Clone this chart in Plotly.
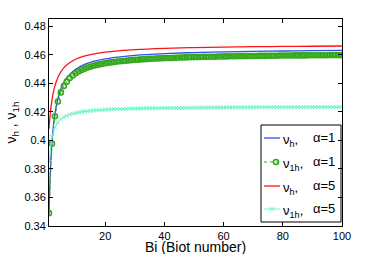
import plotly.graph_objects as go

# Biot number grids
bi_line = [1, 1.5, 2, 2.5, 3, 4, 5, 6, 7, 8, 10, 12, 15, 20, 25, 30, 40, 50, 60, 70, 80, 90, 100]
bi_pts = list(range(1, 101))

# nu_h, alpha=1 (blue line)
nu_h_a1 = [0.3480, 0.3803, 0.3986, 0.4104, 0.4186, 0.4293, 0.4359, 0.4404, 0.4437, 0.4462,
           0.4498, 0.4522, 0.4546, 0.4570, 0.4585, 0.4595, 0.4607, 0.4615, 0.4620, 0.4623,
           0.4626, 0.4628, 0.4630]
# nu_h, alpha=5 (red line)
nu_h_a5 = [0.4079, 0.4202, 0.4282, 0.4339, 0.4382, 0.4441, 0.4480, 0.4508, 0.4528, 0.4544,
           0.4568, 0.4584, 0.4601, 0.4618, 0.4628, 0.4635, 0.4644, 0.4650, 0.4653, 0.4656,
           0.4658, 0.4659, 0.4661]
# nu_1h, alpha=1 (green circles)
nu_1h_a1 = [0.3490, 0.3977, 0.4169, 0.4272, 0.4336, 0.4380, 0.4411, 0.4436, 0.4455, 0.4470,
            0.4482, 0.4493, 0.4502, 0.4510, 0.4516, 0.4522, 0.4527, 0.4532, 0.4536, 0.4540,
            0.4543, 0.4546, 0.4549, 0.4552, 0.4554, 0.4556, 0.4558, 0.4560, 0.4562, 0.4564,
            0.4565, 0.4567, 0.4568, 0.4569, 0.4571, 0.4572, 0.4573, 0.4574, 0.4575, 0.4576,
            0.4577, 0.4577, 0.4578, 0.4579, 0.4580, 0.4580, 0.4581, 0.4582, 0.4582, 0.4583,
            0.4583, 0.4584, 0.4585, 0.4585, 0.4586, 0.4586, 0.4586, 0.4587, 0.4587, 0.4588,
            0.4588, 0.4589, 0.4589, 0.4589, 0.4590, 0.4590, 0.4590, 0.4591, 0.4591, 0.4591,
            0.4591, 0.4592, 0.4592, 0.4592, 0.4593, 0.4593, 0.4593, 0.4593, 0.4594, 0.4594,
            0.4594, 0.4594, 0.4594, 0.4595, 0.4595, 0.4595, 0.4595, 0.4595, 0.4596, 0.4596,
            0.4596, 0.4596, 0.4596, 0.4596, 0.4596, 0.4597, 0.4597, 0.4597, 0.4597, 0.4597]
# nu_1h, alpha=5 (cyan crosses)
nu_1h_a5 = [0.3847, 0.4026, 0.4092, 0.4127, 0.4148, 0.4163, 0.4173, 0.4181, 0.4187, 0.4192,
            0.4196, 0.4200, 0.4203, 0.4205, 0.4207, 0.4209, 0.4211, 0.4212, 0.4214, 0.4215,
            0.4216, 0.4217, 0.4218, 0.4219, 0.4220, 0.4220, 0.4221, 0.4222, 0.4222, 0.4223,
            0.4223, 0.4224, 0.4224, 0.4224, 0.4225, 0.4225, 0.4225, 0.4226, 0.4226, 0.4226,
            0.4227, 0.4227, 0.4227, 0.4227, 0.4228, 0.4228, 0.4228, 0.4228, 0.4229, 0.4229,
            0.4229, 0.4229, 0.4229, 0.4229, 0.4230, 0.4230, 0.4230, 0.4230, 0.4230, 0.4230,
            0.4230, 0.4231, 0.4231, 0.4231, 0.4231, 0.4231, 0.4231, 0.4231, 0.4231, 0.4231,
            0.4231, 0.4232, 0.4232, 0.4232, 0.4232, 0.4232, 0.4232, 0.4232, 0.4232, 0.4232,
            0.4232, 0.4232, 0.4232, 0.4232, 0.4232, 0.4232, 0.4233, 0.4233, 0.4233, 0.4233,
            0.4233, 0.4233, 0.4233, 0.4233, 0.4233, 0.4233, 0.4233, 0.4233, 0.4233, 0.4233]

x_ticks = [20, 40, 60, 80, 100]
y_ticks = [0.34, 0.36, 0.38, 0.40, 0.42, 0.44, 0.46, 0.48]
y_tick_text = ["0.34", "0.36", "0.38", "0.4", "0.42", "0.44", "0.46", "0.48"]

x_title = "Bi (Biot number)"
y_title = "ν<sub>h</sub> , ν<sub>1h</sub>"
legend_vars = ["ν<sub>h</sub>,", "ν<sub>1h</sub>,", "ν<sub>h</sub>,", "ν<sub>1h</sub>,"]
legend_alphas = ["α=1", "α=1", "α=5", "α=5"]

BLUE = "#2f4df0"
GREEN = "#34a81e"
RED = "#ff1414"
CYAN = "#66f7c8"

# figure geometry (pixels)
W, H = 379, 254
ML, MR, MT, MB = 49, 37, 19, 28
PX0, PX1 = ML, W - MR
PY0, PY1 = MT, H - MB

green_marker = dict(symbol="circle-open", size=5, color=GREEN, line=dict(width=1.6, color=GREEN))
cyan_marker = dict(symbol="x-thin", size=4, color=CYAN, line=dict(width=1, color=CYAN))

fig = go.Figure()
fig.add_trace(go.Scatter(x=bi_line, y=nu_h_a1, mode="lines", showlegend=False,
                         line=dict(color=BLUE, width=1.3, shape="spline")))
fig.add_trace(go.Scatter(x=bi_pts, y=nu_1h_a1, mode="lines+markers", showlegend=False,
                         line=dict(color=GREEN, width=1, dash="dot"), marker=green_marker))
fig.add_trace(go.Scatter(x=bi_line, y=nu_h_a5, mode="lines", showlegend=False,
                         line=dict(color=RED, width=1.3, shape="spline")))
fig.add_trace(go.Scatter(x=bi_pts, y=nu_1h_a5, mode="lines+markers", showlegend=False,
                         line=dict(color=CYAN, width=1), marker=cyan_marker))

# ---- MATLAB-style legend drawn on a pixel-coordinate overlay axis ----
LX0, LX1, LY0, LY1 = 261, 341, 125, 222
row_y = [138, 162, 186, 209]
seg_x0, seg_x1 = 264, 280
fig.add_shape(type="rect", xref="x2", yref="y2", x0=LX0, x1=LX1, y0=LY0, y1=LY1,
              line=dict(color="black", width=1), fillcolor="white", layer="below")
styles = [
    dict(line=dict(color=BLUE, width=1.3), marker=None, mx=None),
    dict(line=dict(color=GREEN, width=1, dash="dot"), marker=green_marker, mx=276),
    dict(line=dict(color=RED, width=1.3), marker=None, mx=None),
    dict(line=dict(color=CYAN, width=1), marker=cyan_marker, mx=272),
]
for i, st in enumerate(styles):
    yy = row_y[i]
    fig.add_trace(go.Scatter(x=[seg_x0, seg_x1], y=[yy, yy], mode="lines", line=st["line"],
                             xaxis="x2", yaxis="y2", showlegend=False, hoverinfo="skip"))
    if st["marker"] is not None:
        fig.add_trace(go.Scatter(x=[st["mx"]], y=[yy], mode="markers", marker=st["marker"],
                                 xaxis="x2", yaxis="y2", showlegend=False, hoverinfo="skip"))
    fig.add_annotation(x=281, y=yy + 2, xref="x2", yref="y2", text=legend_vars[i],
                       showarrow=False, xanchor="left", yanchor="middle",
                       font=dict(size=13, color="black"))
    fig.add_annotation(x=311, y=yy - 1, xref="x2", yref="y2", text=legend_alphas[i],
                       showarrow=False, xanchor="left", yanchor="middle",
                       font=dict(size=13, color="black"))

# x-axis title placed as a paper annotation below the tick labels (MATLAB position)
fig.add_annotation(x=0.5, y=(PY1 - 247) / (PY1 - PY0), xref="paper", yref="paper",
                   text=x_title, showarrow=False, xanchor="center", yanchor="middle",
                   font=dict(size=14, color="black"))

axis_common = dict(showline=True, linecolor="black", linewidth=1, mirror="ticks",
                   ticks="inside", ticklen=4, tickcolor="black", showgrid=False,
                   zeroline=False, automargin=False, tickfont=dict(size=11, color="black"))

fig.update_layout(
    width=W, height=H, autosize=False,
    margin=dict(l=ML, r=MR, t=MT, b=MB, autoexpand=False),
    paper_bgcolor="white", plot_bgcolor="white",
    font=dict(family="Liberation Sans, Arial, sans-serif", color="black"),
    showlegend=False,
    xaxis=dict(range=[1, 100], tickvals=x_ticks, **axis_common),
    yaxis=dict(range=[0.34, 0.485], tickvals=y_ticks, ticktext=y_tick_text,
               title=dict(text=y_title, font=dict(size=14), standoff=4),
               **axis_common),
    xaxis2=dict(range=[PX0, PX1], overlaying="x", visible=False, fixedrange=True),
    yaxis2=dict(range=[PY1, PY0], overlaying="y", visible=False, fixedrange=True),
)

fig.write_html("out.html", config={"displayModeBar": False, "responsive": False},
               post_script="document.body.style.margin='0';document.body.style.overflow='hidden';")
